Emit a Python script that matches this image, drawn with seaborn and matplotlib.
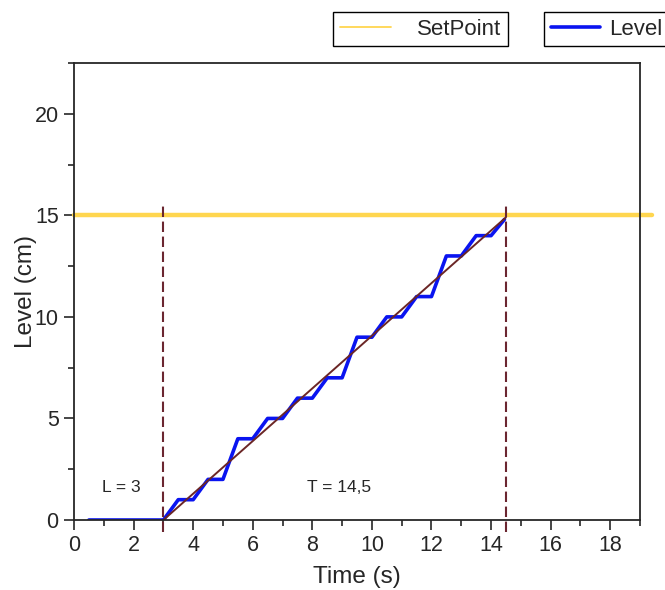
import numpy as np
import pandas as pd
import seaborn as sns
import matplotlib.pyplot as plt
from matplotlib.lines import Line2D
from matplotlib.ticker import MultipleLocator

# Dados
time = [0.5, 3, 3.5, 4, 4.5, 5, 5.5, 6, 6.5, 7, 7.5, 8, 8.5, 9, 9.5, 10,
        10.5, 11, 11.5, 12, 12.5, 13, 13.5, 14, 14.45]
level = [0, 0, 1, 1, 2, 2, 4, 4, 5, 5, 6, 6, 7, 7, 9, 9,
         10, 10, 11, 11, 13, 13, 14, 14, 14.8]
setpoint = 15
setpoint_x = [0, 19.4]
tangent_x = [3, 14.5]
tangent_y = [0, 14.9]
marks_x = [3, 14.5]
label_L = "L = 3"
label_T = "T = 14,5"

sns.set_style("ticks")
plt.rcParams['font.family'] = ['Liberation Sans', 'DejaVu Sans']

df = pd.DataFrame({"time": time, "level": level})

fig = plt.figure(figsize=(6.65, 5.9), dpi=100)
ax = fig.add_axes([74/665, 1-520/590, 566/665, 457/590])

# Linha do setpoint (passa além do eixo)
ax.plot(setpoint_x, [setpoint, setpoint], color="#FFD64F", lw=3.2,
        clip_on=False, zorder=1)

sns.lineplot(data=df, x="time", y="level", sort=False, estimator=None,
             color="#0A14F0", lw=2.6, ax=ax, zorder=3)

ax.plot(tangent_x, tangent_y, color="#6B2626", lw=1.4, zorder=4)

ax.vlines(marks_x, -0.6, 15.6, colors="#6B2630", linestyles=(0, (5, 2.2)),
          lw=1.5, clip_on=False, zorder=5)

ax.text(1.6, 1.6, label_L, fontsize=12.5, ha="center", va="center")
ax.text(8.9, 1.6, label_T, fontsize=12.5, ha="center", va="center")

ax.set_xlim(0, 19)
ax.set_ylim(0, 22.5)
ax.xaxis.set_major_locator(MultipleLocator(2))
ax.xaxis.set_minor_locator(MultipleLocator(1))
ax.yaxis.set_major_locator(MultipleLocator(5))
ax.yaxis.set_minor_locator(MultipleLocator(2.5))
ax.tick_params(which="major", direction="out", length=7, width=1.2,
               labelsize=15.5, pad=4)
ax.tick_params(which="minor", direction="out", length=4.5, width=1.2)
for s in ax.spines.values():
    s.set_linewidth(1.3)
    s.set_zorder(6)

ax.set_xlabel("Time (s)", fontsize=17.5, va="center")
ax.set_ylabel("Level (cm)", fontsize=17.5, va="center")
ax.xaxis.set_label_coords(0.5, -0.125)
ax.yaxis.set_label_coords(-0.085, 0.5)

# Duas legendas separadas acima do gráfico
h1 = Line2D([], [], color="#FFD64F", lw=1.3)
h2 = Line2D([], [], color="#0A14F0", lw=2.6)
leg_kw = dict(loc="upper left", frameon=True, fancybox=False, shadow=False,
              edgecolor="black", framealpha=1, fontsize=16, borderaxespad=0,
              borderpad=0.3)
l1 = fig.legend([h1], ["SetPoint"], bbox_to_anchor=(333/665, 1-12/590),
                handlelength=2.3, handletextpad=1.2, **leg_kw)
l1.get_frame().set_linewidth(1.0)
l2 = fig.legend([h2], ["Level"], bbox_to_anchor=(544/665, 1-12/590),
                handlelength=2.2, handletextpad=0.45, **leg_kw)
l2.get_frame().set_linewidth(1.0)

fig.savefig("out.png", dpi=100)
